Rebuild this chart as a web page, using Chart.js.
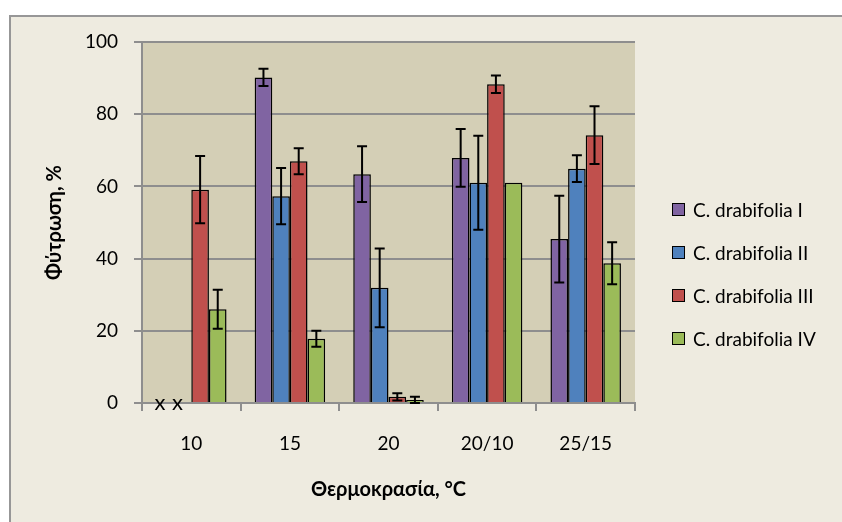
<!DOCTYPE html>
<html lang="el">
<head>
<meta charset="UTF-8">
<title>Φύτρωση</title>
<script src="https://cdn.jsdelivr.net/npm/chart.js"></script>
<style>
  body { margin: 0; background: #fff; }
  #frame { position: absolute; left: 9px; top: 15px; right: 0; bottom: 0; background: #EEEBE0;
           border-top: 2px solid #979797; border-left: 2px solid #979797; }
  #chart { position: absolute; left: 0; top: 0; }
  #legend { position: absolute; left: 672px; top: 188px; font-family: Lato, 'Open Sans', sans-serif;
            font-size: 19px; color: #000; }
  #legend .row { display: flex; align-items: center; height: 43px; }
  #legend .box { width: 13px; height: 13px; box-sizing: border-box; border: 1.5px solid #000; margin-right: 8px; }
</style>
</head>
<body>
<div id="frame"></div>
<canvas id="chart" width="842" height="522"></canvas>
<div id="legend"></div>
<script>
  const categories = ['10', '15', '20', '20/10', '25/15'];
  const seriesNames = ['C. drabifolia I', 'C. drabifolia II', 'C. drabifolia III', 'C. drabifolia IV'];
  const seriesColors = ['#8064A2', '#4F81BD', '#C0504D', '#9BBB59'];

  // null = not measured (shown as "x")
  const valuesI   = [null, 90.2, 63.4, 67.9, 45.4];
  const valuesII  = [null, 57.3, 31.9, 61.0, 64.9];
  const valuesIII = [59.1, 67.0, 1.7, 88.3, 74.2];
  const valuesIV  = [26.0, 17.8, 0.8, 61.0, 38.7];

  const errorsI   = [null, 2.4, 7.7, 8.0, 12.0];
  const errorsII  = [null, 7.8, 10.9, 13.0, 3.7];
  const errorsIII = [9.3, 3.6, 1.0, 2.4, 8.0];
  const errorsIV  = [5.4, 2.2, 0.9, null, 5.8];

  const allValues = [valuesI, valuesII, valuesIII, valuesIV];
  const allErrors = [errorsI, errorsII, errorsIII, errorsIV];

  Chart.defaults.font.family = "Lato, 'Open Sans', sans-serif";
  Chart.defaults.color = '#000';

  const errorBars = {
    id: 'errorBars',
    afterDatasetsDraw(chart) {
      const ctx = chart.ctx;
      const y = chart.scales.y;
      chart.data.datasets.forEach((ds, i) => {
        const meta = chart.getDatasetMeta(i);
        meta.data.forEach((bar, j) => {
          const v = ds.data[j];
          ctx.save();
          if (v === null) {
            ctx.fillStyle = '#000';
            ctx.font = "22px Lato, 'Open Sans', sans-serif";
            ctx.textAlign = 'center';
            ctx.textBaseline = 'middle';
            ctx.fillText('x', bar.x - 5, y.getPixelForValue(0));
            ctx.restore();
            return;
          }
          const e = allErrors[i][j];
          if (e === null) { ctx.restore(); return; }
          const top = y.getPixelForValue(v + e);
          const bot = y.getPixelForValue(Math.max(v - e, 0));
          ctx.strokeStyle = '#000';
          ctx.lineWidth = 2;
          ctx.beginPath();
          ctx.moveTo(bar.x, top); ctx.lineTo(bar.x, bot);
          ctx.moveTo(bar.x - 5, top); ctx.lineTo(bar.x + 5, top);
          ctx.moveTo(bar.x - 5, bot); ctx.lineTo(bar.x + 5, bot);
          ctx.stroke();
          ctx.restore();
        });
      });
    }
  };

  const chart = new Chart(document.getElementById('chart'), {
    type: 'bar',
    data: {
      labels: categories,
      datasets: seriesNames.map((name, i) => ({
        label: name,
        data: allValues[i],
        backgroundColor: seriesColors[i],
        borderColor: '#000',
        borderWidth: 1.5,
        categoryPercentage: 0.715,
        barPercentage: 1.0,
      })),
    },
    options: {
      responsive: false,
      animation: false,
      layout: { padding: { left: 0, top: 42, right: 207, bottom: 0 } },
      plugins: { legend: { display: false }, tooltip: { enabled: false } },
      scales: {
        x: {
          grid: { drawOnChartArea: false, color: '#8e8e8e', lineWidth: 2, tickLength: 8 },
          border: { color: '#8e8e8e', width: 2 },
          ticks: { font: { size: 19 }, padding: 21 },
          title: { display: true, text: 'Θερμοκρασία, °C', font: { size: 20, weight: 'bold' },
                   padding: { top: 0, bottom: 20 } },
          afterFit(scale) { scale.height = 119; },
        },
        y: {
          min: 0, max: 100,
          ticks: { stepSize: 20, font: { size: 19 }, padding: 16 },
          grid: { color: '#8e8e8e', lineWidth: 2, tickLength: 8 },
          border: { color: '#8e8e8e', width: 2 },
          title: { display: true, text: 'Φύτρωση, %', font: { size: 20, weight: 'bold' },
                   padding: { top: 43, bottom: 0 } },
          afterFit(scale) { scale.width = 142; },
        },
      },
    },
    plugins: [
      { id: 'plotBg', beforeDraw(c) {
          const a = c.chartArea;
          c.ctx.save(); c.ctx.fillStyle = '#D4CFB6';
          c.ctx.fillRect(a.left, a.top, a.right - a.left, a.bottom - a.top);
          c.ctx.restore();
      } },
      errorBars,
    ],
  });

  const legend = document.getElementById('legend');
  chart.data.datasets.forEach(ds => {
    const row = document.createElement('div');
    row.className = 'row';
    const box = document.createElement('span');
    box.className = 'box';
    box.style.background = ds.backgroundColor;
    const txt = document.createElement('span');
    txt.textContent = ds.label;
    row.appendChild(box); row.appendChild(txt);
    legend.appendChild(row);
  });
</script>
</body>
</html>
